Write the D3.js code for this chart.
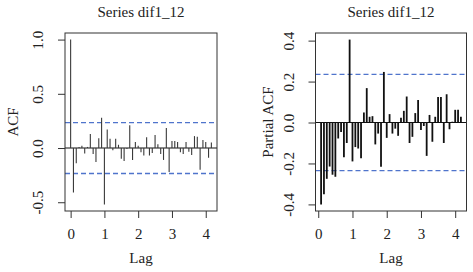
<!DOCTYPE html>
<html><head><meta charset="utf-8">
<script src="https://cdn.jsdelivr.net/npm/d3@7"></script>
<style>
html,body{margin:0;padding:0;background:#fff;}
text{font-family:"Liberation Serif","Times New Roman",serif;fill:#222;}
</style></head>
<body><svg id="c" width="473" height="272"></svg>
<script>
// ---- data ----
const seriesTitle = "Series dif1_12";
const frequency = 12;
const acfValues = [1.0, -0.41, -0.14, 0.01, 0.02, -0.05, 0.01, 0.13, -0.055, -0.13, 0.09,
  0.28, -0.52, 0.17, 0.085, -0.02, 0.085, 0.03, -0.10, -0.12, -0.01,
  0.21, -0.11, 0.055, 0.02, -0.04, -0.07, 0.10, -0.07, -0.045, 0.12,
  0.035, -0.055, -0.11, 0.185, -0.22, 0.065, 0.065, 0.055, -0.04, -0.055,
  0.055, -0.035, -0.065, 0.11, 0.105, -0.20, 0.075, 0.055, -0.09, 0.05];
const pacfValues = [-0.40, -0.35, -0.275, -0.215, -0.255, -0.265, -0.078, -0.046, -0.17, -0.10,
  0.405, -0.19, -0.12, -0.127, -0.175, 0.049, 0.168, 0.028, 0.031, -0.107,
  -0.054, -0.216, 0.247, -0.075, 0.041, -0.054, -0.03, -0.065, 0.023, 0.057,
  0.127, -0.10, -0.07, 0.046, 0.11, -0.037, -0.017, -0.163, 0.037, -0.094,
  0.028, 0.125, 0.125, -0.10, 0.138, -0.033, 0.004, 0.062, 0.062, 0.028];
const confLimit = 0.235;
const xTicks = [0, 1, 2, 3, 4];
const acfYTicks = [-0.5, 0.0, 0.5, 1.0];
const pacfYTicks = [-0.4, -0.2, 0.0, 0.2, 0.4];

const svg = d3.select("#c");
const fmt1 = d => d.toFixed(1);

function expand(lo, hi){ const d=(hi-lo)*0.04; return [lo-d, hi+d]; }

function panel(opts){
  const {values, lag0, left, right, top, bottom, yTicks, ylab, barW, barColor, ylabX, ytickX} = opts;
  const data = values.map((v,i)=>({lag:(i+lag0)/frequency, v}));
  const xd = expand(d3.min(data,d=>d.lag), d3.max(data,d=>d.lag));
  const yd = expand(Math.min(-confLimit, d3.min(values)), Math.max(confLimit, d3.max(values)));
  const x = d3.scaleLinear().domain(xd).range([left, right]);
  const y = d3.scaleLinear().domain(yd).range([bottom, top]);
  const g = svg.append("g");

  [confLimit, -confLimit].forEach(c=>{
    g.append("line").attr("x1",left).attr("x2",right).attr("y1",y(c)).attr("y2",y(c))
      .attr("stroke","#4f74cc").attr("stroke-width",1.3).attr("stroke-dasharray","5,3");
  });
  g.append("line").attr("x1",left).attr("x2",right).attr("y1",y(0)).attr("y2",y(0))
    .attr("stroke","#111").attr("stroke-width",1.1);
  g.selectAll("line.bar").data(data).join("line").attr("class","bar")
    .attr("x1",d=>x(d.lag)).attr("x2",d=>x(d.lag))
    .attr("y1",y(0)).attr("y2",d=>y(d.v))
    .attr("stroke",barColor).attr("stroke-width",barW);
  g.append("rect").attr("x",left).attr("y",top).attr("width",right-left).attr("height",bottom-top)
    .attr("fill","none").attr("stroke","#333").attr("stroke-width",1);

  const xa = g.append("g").attr("transform",`translate(0,${bottom})`)
    .call(d3.axisBottom(x).tickValues(xTicks).tickSize(7).tickPadding(10).tickFormat(d3.format("d")));
  xa.select(".domain").remove();
  xa.selectAll("line").attr("stroke","#333");
  xa.selectAll("text").attr("font-size","15px").attr("fill","#222")
    .attr("font-family",'"Liberation Serif",serif').attr("dy","0.71em");
  const ya = g.append("g").attr("transform",`translate(${left},0)`)
    .call(d3.axisLeft(y).tickValues(yTicks).tickSize(7).tickFormat(fmt1));
  ya.select(".domain").remove();
  ya.selectAll("line").attr("stroke","#333");
  ya.selectAll("text")
    .attr("x",null).attr("dy",null)
    .attr("text-anchor","middle")
    .attr("font-size","15px").attr("fill","#222")
    .attr("font-family",'"Liberation Serif",serif')
    .attr("transform",`translate(${ytickX-left},0) rotate(-90)`);

  g.append("text").attr("x",(left+right)/2).attr("y",17).attr("text-anchor","middle")
    .attr("font-size","15px").text(seriesTitle);
  g.append("text").attr("x",(left+right)/2).attr("y",263).attr("text-anchor","middle")
    .attr("font-size","15px").text("Lag");
  g.append("text").attr("transform",`translate(${ylabX},${(top+bottom)/2}) rotate(-90)`)
    .attr("text-anchor","middle").attr("font-size","15px").text(ylab);
}

panel({values: acfValues, lag0: 0, left: 65, right: 217, top: 33, bottom: 211,
  yTicks: acfYTicks, ylab: "ACF", barW: 1.1, barColor: "#3a3a3a",
  ylabX: 18, ytickX: 43});
panel({values: pacfValues, lag0: 1, left: 315.5, right: 466.5, top: 33, bottom: 211,
  yTicks: pacfYTicks, ylab: "Partial ACF", barW: 1.8, barColor: "#111",
  ylabX: 273, ytickX: 294});
</script></body></html>
